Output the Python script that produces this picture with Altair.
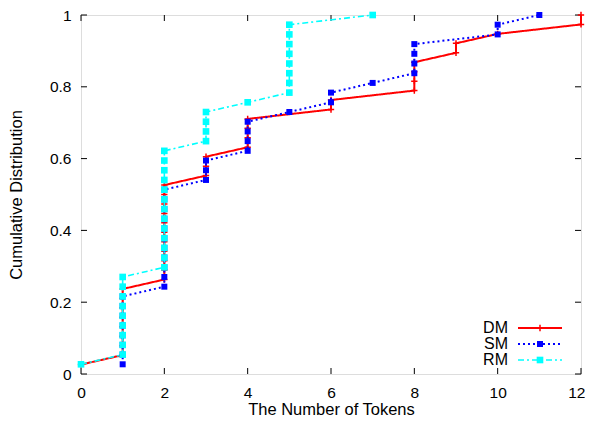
import altair as alt
import pandas as pd

# Token counts observed for each method (value -> number of samples)
dm_tokens = [0, 1, 2, 3, 4, 6, 8, 9, 10, 12]
dm_counts = [1, 8, 11, 3, 4, 2, 4, 2, 1, 2]
sm_tokens = [1, 2, 3, 4, 5, 6, 7, 8, 10, 11]
sm_counts = [8, 11, 3, 4, 1, 2, 1, 4, 2, 1]
rm_tokens = [0, 1, 2, 3, 4, 5, 7]
rm_counts = [1, 9, 13, 4, 1, 8, 1]

x_ticks = [0, 2, 4, 6, 8, 10, 12]
y_ticks = [0, 0.2, 0.4, 0.6, 0.8, 1.0]

FONT = "Liberation Sans"
W, H = 500, 359


def cdf(name, tokens, counts):
    xs = []
    for t, c in zip(tokens, counts):
        xs += [t] * c
    n = len(xs)
    return pd.DataFrame({"method": name, "tokens": xs,
                         "cdf": [(i + 1) / n for i in range(n)],
                         "idx": list(range(n))})


df = pd.concat([cdf("DM", dm_tokens, dm_counts),
                cdf("SM", sm_tokens, sm_counts),
                cdf("RM", rm_tokens, rm_counts)], ignore_index=True)

xs = alt.Scale(domain=[0, 12], nice=False)
ys = alt.Scale(domain=[0, 1], nice=False)

base = alt.Chart(df)

X = alt.X("tokens:Q", scale=xs,
          axis=alt.Axis(values=x_ticks, title="The Number of Tokens", grid=False,
                        ticks=False, tickSize=0, domain=False, labelPadding=11,
                        labelFlush=False, labelOverlap=False,
                        labelAlign={"condition": {"test": "datum.value == 12", "value": "right"},
                                    "value": "center"},
                        labelOffset={"condition": {"test": "datum.value == 12", "value": 4},
                                     "value": 0},
                        labelFont=FONT, labelFontSize=15.5, labelColor="black",
                        titleFont=FONT, titleFontSize=16.5, titleFontWeight="normal",
                        titleColor="black", titleY=40, titleBaseline="alphabetic"))
Y = alt.Y("cdf:Q", scale=ys,
          axis=alt.Axis(values=y_ticks, title="Cumulative Distribution", grid=False,
                        ticks=False, tickSize=0, domain=False, labelPadding=10,
                        labelFlush=False, labelOverlap=False,
                        format=".1~f",
                        labelFont=FONT, labelFontSize=15.5, labelColor="black",
                        titleFont=FONT, titleFontSize=16.5, titleFontWeight="normal",
                        titleColor="black", titleAngle=270, titleX=-60,
                        titleY=H / 2, titleAlign="center", titleBaseline="alphabetic"))

PLUS = "M-1,0L1,0M0,-1L0,1"

styles = {
    "DM": dict(color="#ff0000", dash=[1, 0], width=2, shape=PLUS, size=40, filled=False),
    "SM": dict(color="#0000ff", dash=[2, 3], width=2, shape="square", size=36, filled=True),
    "RM": dict(color="#00ffff", dash=[6, 3, 2, 3], width=1.6, shape="square", size=44, filled=True),
}

layers = []
for name in ["DM", "SM", "RM"]:
    s = styles[name]
    sub = base.transform_filter(alt.datum.method == name)
    line = sub.mark_line(color=s["color"], strokeDash=s["dash"],
                         strokeWidth=s["width"]).encode(x=X, y=Y, order="idx:Q")
    if s["filled"]:
        pts = sub.mark_point(shape=s["shape"], size=s["size"], filled=True,
                             color=s["color"], opacity=1).encode(x=X, y=Y)
    else:
        pts = sub.mark_point(shape=s["shape"], size=s["size"], filled=False,
                             color=s["color"], strokeWidth=1.5, opacity=1).encode(x=X, y=Y)
    layers += [line, pts]

# inward ticks on all four sides
xt = alt.Chart(pd.DataFrame({"v": x_ticks}))
yt = alt.Chart(pd.DataFrame({"v": y_ticks}))
tick_color = "black"
ticks = [
    xt.mark_rule(color=tick_color).encode(x=alt.X("v:Q", scale=xs), y=alt.value(H), y2=alt.value(H - 6)),
    xt.mark_rule(color=tick_color).encode(x=alt.X("v:Q", scale=xs), y=alt.value(0), y2=alt.value(6)),
    yt.mark_rule(color=tick_color).encode(y=alt.Y("v:Q", scale=ys), x=alt.value(0), x2=alt.value(6)),
    yt.mark_rule(color=tick_color).encode(y=alt.Y("v:Q", scale=ys), x=alt.value(W), x2=alt.value(W - 6)),
]

# legend (bottom right, label then line sample)
legend = []
one = alt.Chart(pd.DataFrame({"a": [0]}))
for i, name in enumerate(["DM", "SM", "RM"]):
    s = styles[name]
    yy = 313 + 16 * i
    legend.append(one.mark_text(text=name, align="right", baseline="middle", font=FONT,
                                fontSize=16, color="black")
                  .encode(x=alt.value(427), y=alt.value(yy)))
    legend.append(one.mark_rule(color=s["color"], strokeDash=s["dash"], strokeWidth=s["width"])
                  .encode(x=alt.value(437), x2=alt.value(481), y=alt.value(yy)))
    if s["filled"]:
        legend.append(one.mark_point(shape=s["shape"], size=s["size"], filled=True,
                                     color=s["color"], opacity=1)
                      .encode(x=alt.value(459), y=alt.value(yy)))
    else:
        legend.append(one.mark_point(shape=s["shape"], size=s["size"], filled=False,
                                     color=s["color"], strokeWidth=1.5, opacity=1)
                      .encode(x=alt.value(459), y=alt.value(yy)))

chart = alt.layer(*ticks, *layers, *legend).properties(
    width=W, height=H,
    autosize=alt.AutoSizeParams(type="none"),
    padding={"left": 73, "top": 7, "right": 4, "bottom": 43},
).configure_view(stroke="black", strokeWidth=1.2).configure(background="white")

chart.save("out.html", embed_options={"renderer": "svg", "actions": False})
